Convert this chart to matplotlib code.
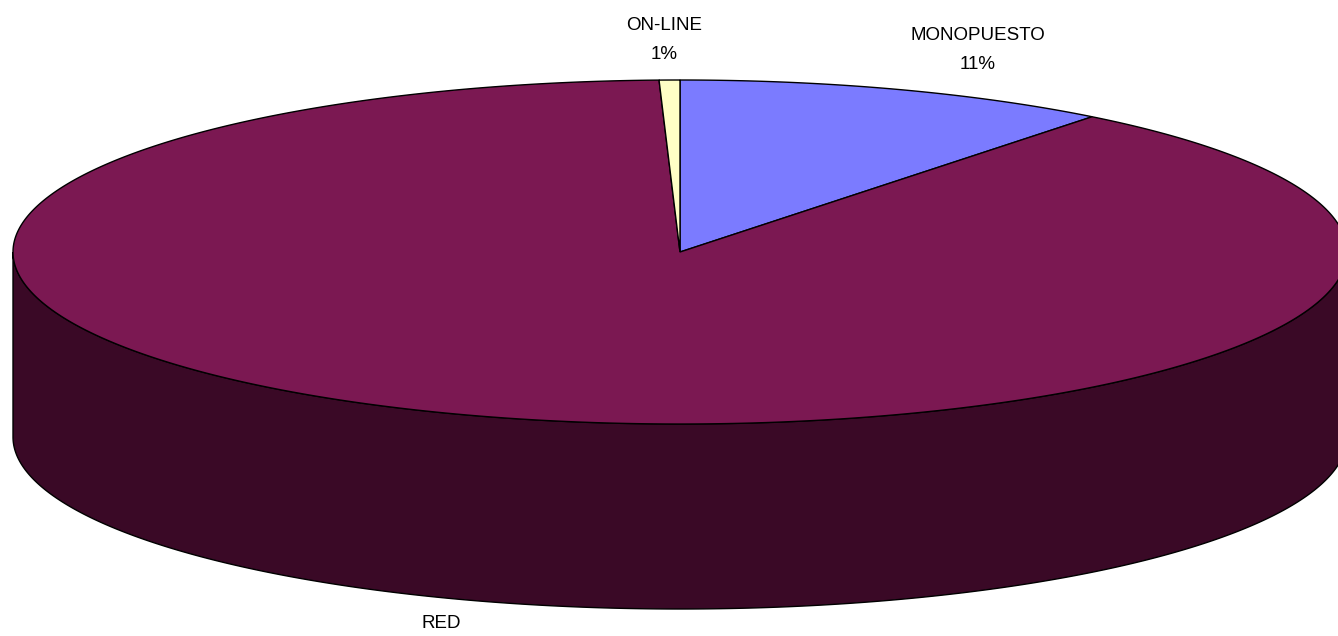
import numpy as np
import matplotlib
matplotlib.use("Agg")
import matplotlib.pyplot as plt
from matplotlib.patches import Polygon

# data (clockwise from 12 o'clock, Excel order)
labels = ["MONOPUESTO", "RED", "ON-LINE"]
values = [10.6, 88.9, 0.5]
show_pct = [True, False, True]
top_colors = ["#7B7BFF", "#7B1852", "#FFFFC6"]
side_colors = ["#3B3BA0", "#3A0926", "#9E9E70"]

# layout (pixels)
W, H = 1338, 636
cx, cy = 680, 252
rx, ry = 667, 172
depth = 185
label_pos = {"MONOPUESTO": (978, 50), "ON-LINE": (664, 40), "RED": (441, 624)}

plt.rcParams['font.family'] = ['Liberation Sans', 'DejaVu Sans']

fig = plt.figure(figsize=(W / 100, H / 100), dpi=100)
ax = fig.add_axes([0, 0, 1, 1])
ax.set_xlim(0, W)
ax.set_ylim(H, 0)
ax.axis('off')


def ell(t, dy=0):
    return cx + rx * np.sin(t), cy - ry * np.cos(t) + dy


fr = np.array(values) / sum(values)
edges = np.concatenate([[0], np.cumsum(fr)]) * 2 * np.pi

# side wall (front half only visible: t from pi/2 to 3pi/2)
for i in range(len(values)):
    a0 = max(edges[i], np.pi / 2)
    a1 = min(edges[i + 1], 3 * np.pi / 2)
    if a1 <= a0:
        continue
    t = np.linspace(a0, a1, 400)
    x, y = ell(t)
    xb, yb = ell(t[::-1], depth)
    pts = np.column_stack([np.concatenate([x, xb]), np.concatenate([y, yb])])
    ax.add_patch(Polygon(pts, closed=True, facecolor=side_colors[i],
                         edgecolor='black', linewidth=1.0, zorder=1))

# top face wedges
for i in range(len(values)):
    t = np.linspace(edges[i], edges[i + 1], 600)
    x, y = ell(t)
    pts = np.column_stack([np.concatenate([[cx], x]), np.concatenate([[cy], y])])
    ax.add_patch(Polygon(pts, closed=True, facecolor=top_colors[i],
                         edgecolor='black', linewidth=1.0, zorder=2))

# labels
for i, lab in enumerate(labels):
    px, py = label_pos[lab]
    txt = lab
    if show_pct[i]:
        txt = lab + "\n" + "%d%%" % int(values[i] + 0.5)
    ax.text(px, py, txt, ha='center', va='center', fontsize=13.5,
            linespacing=1.85, color='black', zorder=3)

fig.savefig("out.png", dpi=100)
